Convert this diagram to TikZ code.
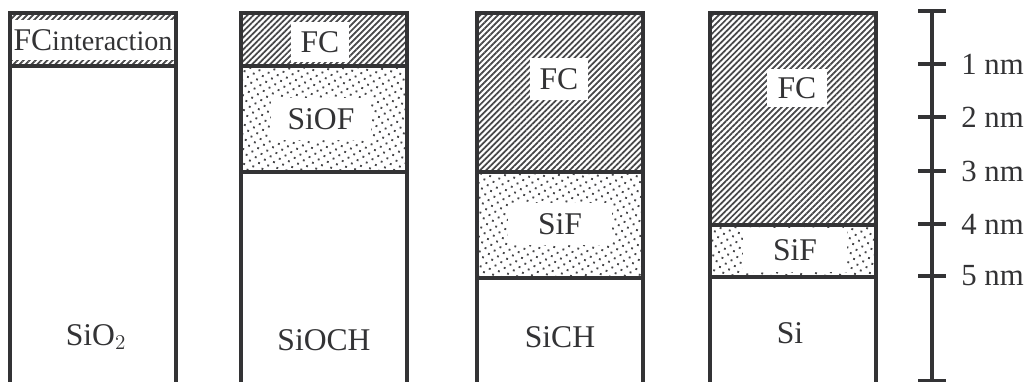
\documentclass[tikz,border=0pt]{standalone}
\usepackage{fontspec}
\setmainfont{Liberation Serif}
\usepackage{xcolor}
\usepackage{tikz}
\usetikzlibrary{patterns.meta}

\definecolor{ink}{HTML}{333335}

\begin{document}
\begin{tikzpicture}[
    x=0.02cm, y=-0.02cm,
    layer/.style={draw=ink, line width=2.3pt},
    fc/.style={layer, pattern={Lines[angle=45, distance=2.4pt, line width=1pt]}, pattern color=ink!90},
    dotted layer/.style={layer, pattern={Dots[angle=30, distance=3.8pt, radius=0.75pt]}, pattern color=ink!90},
    bulk/.style={layer, fill=white},
    lbl/.style={fill=white, inner sep=0pt, text=ink, font=\fontsize{18}{21}\selectfont},
    txt/.style={text=ink, font=\fontsize{18}{21}\selectfont, anchor=base},
    tick/.style={draw=ink, line width=2.1pt}
]
    \clip (0,0) rectangle (1025,382);

    % Column 1: SiO2
    \draw[fc] (10,13) rectangle (176,66);
    \draw[bulk] (10,66) rectangle (176,395);
    \node[lbl, minimum width=3.26cm, minimum height=0.82cm] (fc1) at (93,40) {FC{\fontsize{16}{19}\selectfont interaction}};
    \node[txt] (sio2) at (96,345) {SiO$_2$};

    % Column 2: SiOCH
    \draw[fc] (241,13) rectangle (407,66);
    \draw[dotted layer] (241,66) rectangle (407,172);
    \draw[bulk] (241,172) rectangle (407,395);
    \node[lbl, minimum width=1.18cm, minimum height=0.8cm] (fc2) at (320,42) {FC};
    \node[lbl, minimum width=2.0cm, minimum height=0.84cm] (siof) at (321,119) {SiOF};
    \node[txt] (sioch) at (324,350) {SiOCH};

    % Column 3: SiCH
    \draw[fc] (477,13) rectangle (643,172);
    \draw[dotted layer] (477,172) rectangle (643,278);
    \draw[bulk] (477,278) rectangle (643,395);
    \node[lbl, minimum width=1.16cm, minimum height=0.84cm] (fc3) at (559,79) {FC};
    \node[lbl, minimum width=2.08cm, minimum height=0.86cm] (sif3) at (560,224) {SiF};
    \node[txt] (sich) at (560,347) {SiCH};

    % Column 4: Si
    \draw[fc] (710,13) rectangle (876,225);
    \draw[dotted layer] (710,225) rectangle (876,277);
    \draw[bulk] (710,277) rectangle (876,395);
    \node[lbl, minimum width=1.2cm, minimum height=0.78cm] (fc4) at (797,88) {FC};
    \node[lbl, minimum width=2.08cm, minimum height=0.88cm] (sif4) at (795,250) {SiF};
    \node[txt] (si) at (790,343) {Si};

    % Scale bar
    \draw[tick] (932,11) -- (932,381);
    \foreach \y in {11,381} \draw[tick] (918,\y) -- (946,\y);
    \foreach \y/\n in {64/1,117/2,171/3,224/4,276/5} {
        \draw[tick] (918,\y) -- (946,\y);
        \node[text=ink, font=\fontsize{17.5}{20}\selectfont, anchor=west, inner sep=0pt] (nm\n) at (961,\y) {\n~nm};
    }
\end{tikzpicture}
\end{document}
